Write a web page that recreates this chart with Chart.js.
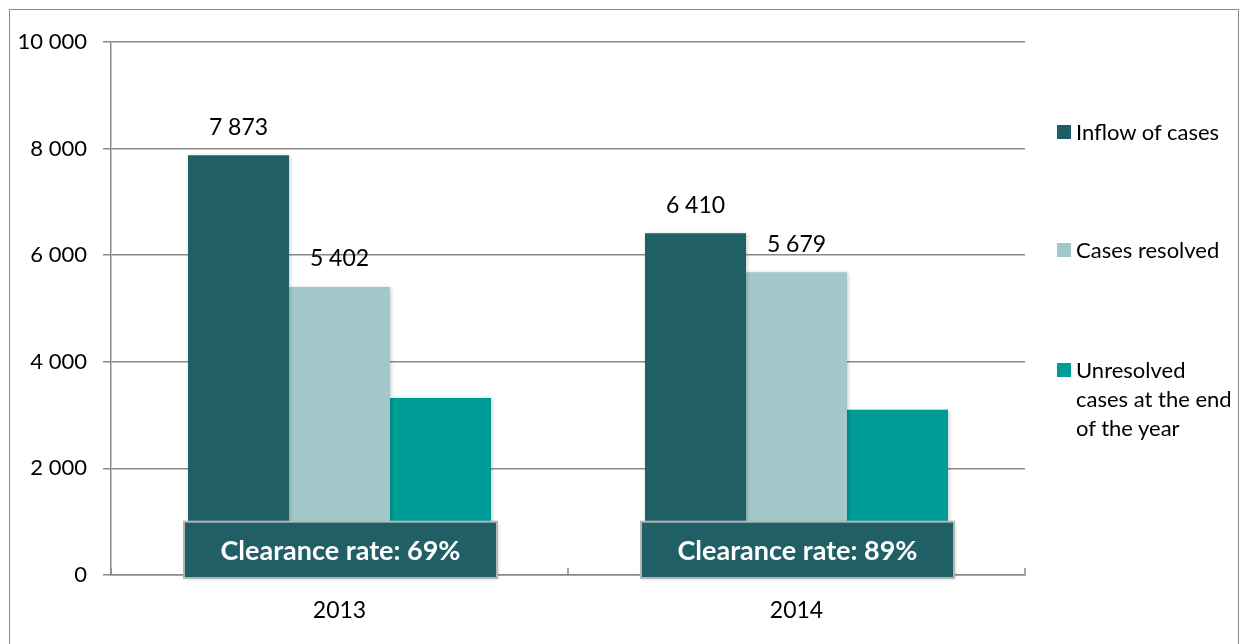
<!DOCTYPE html>
<html>
<head>
<meta charset="utf-8">
<script src="https://cdn.jsdelivr.net/npm/chart.js@4"></script>
<style>
  html, body { margin: 0; padding: 0; background: #fff; }
  body { width: 1242px; height: 644px; position: relative; overflow: hidden; font-family: Lato, "Open Sans", sans-serif; }
  #frame { position: absolute; left: 9px; top: 9px; width: 1230px; height: 700px; border: 1.5px solid #8a8a8a; box-sizing: border-box; }
  #wrap { position: absolute; left: 0; top: 0; width: 1242px; height: 644px; }
  #legend { position: absolute; left: 1057px; top: 0; width: 182px; font-size: 22px; color: #000; }
  .item { position: absolute; left: 0; width: 182px; line-height: 29px; }
  .sw { position: absolute; left: 0; top: 8px; width: 14px; height: 14px; }
  .txt { position: absolute; left: 19px; top: 0; width: 160px; }
</style>
</head>
<body>
<div id="frame"></div>
<div id="wrap"><canvas id="chart" width="1242" height="644"></canvas></div>
<div id="legend"></div>
<script>
const years = ["2013", "2014"];
const seriesNames = ["Inflow of cases", "Cases resolved", "Unresolved cases at the end of the year"];
const inflow = [7873, 6410];
const resolved = [5402, 5679];
const unresolved = [3320, 3100];
const seriesColors = ["#1f5f65", "#a2c8c9", "#009c97"];
const labelledSeries = [true, true, false];
const clearanceLabels = ["Clearance rate: 69%", "Clearance rate: 89%"];
const yTicks = [0, 2000, 4000, 6000, 8000, 10000];

const FONT = "Lato, 'Open Sans', sans-serif";

function fmt(v) {
  return String(v).replace(/\B(?=(\d{3})+(?!\d))/g, " ");
}

// legend (html so the long label can wrap)
const legendTops = [117, 235, 355];
const legend = document.getElementById("legend");
seriesNames.forEach((name, i) => {
  const item = document.createElement("div");
  item.className = "item";
  item.style.top = legendTops[i] + "px";
  item.innerHTML = `<div class="sw" style="background:${seriesColors[i]}"></div><div class="txt">${name}</div>`;
  legend.appendChild(item);
});

const extras = {
  id: "extras",
  beforeDatasetsDraw(chart) {
    const ctx = chart.ctx;
    ctx.save();
    ctx.shadowColor = "rgba(0,0,0,0.22)";
    ctx.shadowBlur = 4;
    ctx.shadowOffsetX = 1;
    ctx.shadowOffsetY = 1;
  },
  afterDatasetsDraw(chart) {
    const ctx = chart.ctx;
    ctx.restore();
    const y = chart.scales.y;
    const area = chart.chartArea;

    // inside tick marks on the category axis
    const catW = (area.right - area.left) / years.length;
    ctx.save();
    ctx.strokeStyle = "#8a8a8a";
    ctx.lineWidth = 1.5;
    for (let i = 0; i <= years.length; i++) {
      const px = area.left + i * catW;
      ctx.beginPath();
      ctx.moveTo(px, area.bottom);
      ctx.lineTo(px, area.bottom - 7);
      ctx.stroke();
    }
    ctx.restore();

    // value labels
    ctx.save();
    ctx.fillStyle = "#000";
    ctx.font = "23px " + FONT;
    ctx.textAlign = "center";
    ctx.textBaseline = "middle";
    chart.data.datasets.forEach((ds, di) => {
      if (!labelledSeries[di]) return;
      chart.getDatasetMeta(di).data.forEach((bar, i) => {
        ctx.fillText(fmt(ds.data[i]), bar.x, bar.y - 28);
      });
    });
    ctx.restore();

    // clearance rate boxes
    ctx.save();
    years.forEach((yr, i) => {
      const first = chart.getDatasetMeta(0).data[i];
      const last = chart.getDatasetMeta(2).data[i];
      const left = first.x - first.width / 2 - 4;
      const right = last.x + last.width / 2 + 6;
      const top = y.getPixelForValue(1000);
      const bottom = y.getPixelForValue(0) + 3;
      ctx.shadowColor = "rgba(0,0,0,0.25)";
      ctx.shadowBlur = 3;
      ctx.shadowOffsetX = 1;
      ctx.shadowOffsetY = 1;
      ctx.fillStyle = "#1f5f65";
      ctx.fillRect(left, top, right - left, bottom - top);
      ctx.shadowColor = "transparent";
      ctx.strokeStyle = "#b5b5b5";
      ctx.lineWidth = 2;
      ctx.strokeRect(left, top, right - left, bottom - top);
      ctx.fillStyle = "#fff";
      ctx.font = "bold 27px " + FONT;
      ctx.textAlign = "center";
      ctx.textBaseline = "middle";
      ctx.fillText(clearanceLabels[i], (left + right) / 2, (top + bottom) / 2 + 1);
    });
    ctx.restore();
  }
};

new Chart(document.getElementById("chart"), {
  type: "bar",
  data: {
    labels: years,
    datasets: [
      { label: seriesNames[0], data: inflow, backgroundColor: seriesColors[0] },
      { label: seriesNames[1], data: resolved, backgroundColor: seriesColors[1] },
      { label: seriesNames[2], data: unresolved, backgroundColor: seriesColors[2] }
    ]
  },
  options: {
    responsive: false,
    animation: false,
    layout: { padding: { top: 42, right: 217, left: 0, bottom: 0 } },
    datasets: { bar: { categoryPercentage: 0.663, barPercentage: 1, borderWidth: 0 } },
    plugins: { legend: { display: false }, tooltip: { enabled: false } },
    scales: {
      x: {
        grid: { display: false, drawTicks: false },
        border: { display: true, color: "#8a8a8a", width: 1.5 },
        ticks: { color: "#000", font: { family: FONT, size: 23 }, padding: 22 },
        afterFit(s) { s.height = 69; }
      },
      y: {
        min: 0,
        max: 10000,
        afterBuildTicks(s) { s.ticks = yTicks.map(v => ({ value: v })); },
        grid: { color: "#8a8a8a", lineWidth: 1.5, tickLength: 8 },
        border: { display: true, color: "#8a8a8a", width: 1.5 },
        ticks: { color: "#000", font: { family: FONT, size: 22 }, padding: 16, callback: v => fmt(v) },
        afterFit(s) { s.width = 111; }
      }
    }
  },
  plugins: [extras]
});
</script>
</body>
</html>
